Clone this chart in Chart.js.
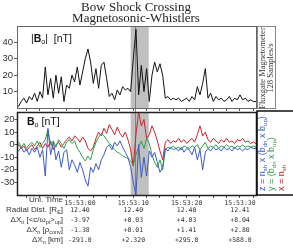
<!DOCTYPE html>
<html>
<head>
<meta charset="utf-8">
<script src="https://cdn.jsdelivr.net/npm/chart.js@4.4.0/dist/chart.umd.min.js"></script>
<style>
html, body { margin: 0; padding: 0; background: #fff; overflow: hidden; }
#wrap { position: relative; width: 293px; height: 249px; }
canvas { position: absolute; left: 0; top: 0; }
</style>
</head>
<body>
<div id="wrap">
  <canvas id="bmag" width="293" height="249"></canvas>
  <canvas id="bvec" width="293" height="249"></canvas>
</div>
<script>
// samples every 0.5 s, seconds relative to 15:53:00
const t0 = -12;
const dt = 0.5;

// |B| [nT]
const bMag = [3, 1, 4, 6, 3, 7, 5, 9, 4, 10,
  6, 25, 8, 18, 6, 20, 9, 19, 4, 14,
  12, 20, 16, 25, 14, 22, 30, 36, 28, 15,
  24, 12, 26, 28, 18, 7, 9, 5, 11, 8,
  13, 11, 12, 10, 30, 48, 8, 26, 10, 24,
  4, 20, 28, 22, 27, 20, 6, 7, 5, 6,
  5, 6, 4, 5, 6, 4, 7, 5, 13, 8,
  15, 24, 6, 9, 4, 7, 5, 6, 4, 5,
  7, 4, 6, 5, 8, 5, 6, 4, 5, 4,
  4];

// B components [nT]
const bX = [-2, 0, -3, -1, -5, -2, 0, -4, -1, 2,
  -3, 1, -2, 3, -4, 0, 2, -2, 1, 4,
  6, 3, 7, 5, 2, 6, 3, -3, -5, -2,
  5, 10, 7, 13, 9, 16, 12, 8, 14, 9,
  6, 10, 4, -4, -17, 8, 26, 15, 20, 5,
  8, 15, 10, 3, -5, -12, 2, 4, 1, 3,
  2, 5, 2, 4, 1, 3, 5, 2, 8, 15,
  7, 10, 4, 2, 5, 3, 1, 4, 2, 5,
  2, 3, 1, 4, 3, 5, 2, 3, 1, 2,
  1];
const bY = [-1, 2, -2, 1, -3, 0, 2, -1, 3, -2,
  1, 4, 12, 0, 3, -2, 4, 1, -3, 2,
  4, 1, 3, -3, -6, -10, -13, -9, -12, -4,
  2, 6, 9, 7, 4, 1, -1, -4, -6, -7,
  -9, -10, -11, -13, -16, -8, -2, 3, -3, 5,
  1, -8, -14, -18, -12, -20, -4, -2, -3, -1,
  -3, -2, -4, -1, -2, -3, -1, -2, 0, -4,
  -1, 2, -3, -1, -2, 0, -3, -1, -2, 0,
  -2, -1, -3, -1, -2, 0, -2, -1, -2, -1,
  -2];
const bZ = [-3, -5, -2, -6, -4, -8, -3, -6, -2, -10,
  -4, -25, 13, -8, 2, -12, -5, -18, -6, -4,
  -20, -12, -16, -22, -14, -20, -28, -33, -18, -22,
  -15, -20, -12, -8, -2, 0, -4, 2, -1, 3,
  -2, -6, -10, -18, -30, -40, 0, -26, -10, -25,
  -5, -10, -6, -14, -22, -18, -3, -5, -2, -4,
  -3, -5, -2, -6, -3, -4, -8, -2, -12, -4,
  -20, -6, -3, -5, -2, -4, -3, -5, -2, -4,
  -3, -5, -2, -4, -3, -5, -3, -4, -2, -3,
  -3];

const labelSecs = [0, 10, 20, 30];
const timeLabels = ['15:53:00', '15:53:10', '15:53:20', '15:53:30'];
const radialDist = ['12.40', '12.40', '12.40', '12.41'];
const dxInertial = ['-3.97', '+0.03', '+4.03', '+8.04'];
const dxRho = ['-1.38', '+0.01', '+1.41', '+2.80'];
const dxKm = ['-291.0', '+2.320', '+295.0', '+588.0'];
const shockBand = [9.5, 12.9];
const rampTime = 10.3;

const RED = '#c8232c', GREEN = '#2e9e48', BLUE = '#3b5bc4';
const SANS = 'Liberation Sans', SERIF = 'Liberation Serif', MONO = 'DejaVu Sans Mono';

const xs = bMag.map((_, i) => t0 + i * dt);
const pts = arr => arr.map((v, i) => ({ x: xs[i], y: v }));

const minorTicks = [];
for (let v = -10; v <= 32.5; v += 2.5) minorTicks.push(v);

// text with subscripts: parts = [[text, sub, bold]]
function richWidth(ctx, parts, size) {
  let w = 0;
  parts.forEach(p => {
    ctx.font = (p[2] ? 'bold ' : '') + (p[1] ? size * 0.68 : size) + 'px ' + SANS;
    w += ctx.measureText(p[0]).width;
  });
  return w;
}
function drawRich(ctx, parts, x, y, size, align) {
  let cx = align === 'right' ? x - richWidth(ctx, parts, size) : x;
  ctx.textAlign = 'left';
  ctx.textBaseline = 'middle';
  parts.forEach(p => {
    ctx.font = (p[2] ? 'bold ' : '') + (p[1] ? size * 0.68 : size) + 'px ' + SANS;
    ctx.fillText(p[0], cx, p[1] ? y + size * 0.3 : y);
    cx += ctx.measureText(p[0]).width;
  });
}

// panel decorations: shaded shock band, ramp line, frame, label
function makePanel(cfg) {
  return {
    id: 'panel',
    beforeDatasetsDraw(chart) {
      const { ctx, chartArea: a, scales: { x } } = chart;
      ctx.save();
      ctx.fillStyle = '#c0c0c0';
      const b0 = x.getPixelForValue(shockBand[0]), b1 = x.getPixelForValue(shockBand[1]);
      ctx.fillRect(b0, a.top, b1 - b0, a.bottom - a.top);
      ctx.strokeStyle = '#3cb34a';
      ctx.lineWidth = 1;
      const g = Math.round(x.getPixelForValue(rampTime)) + 0.5;
      ctx.beginPath();
      ctx.moveTo(g, a.top);
      ctx.lineTo(g, cfg.lineTo || a.bottom);
      ctx.stroke();
      ctx.restore();
    },
    afterDraw(chart) {
      const { ctx, chartArea: a } = chart;
      ctx.save();
      ctx.strokeStyle = cfg.frame;
      ctx.lineWidth = cfg.frameWidth;
      ctx.strokeRect(a.left + 0.5, a.top + 0.5, a.right - a.left, a.bottom - a.top);
      ctx.fillStyle = '#111';
      drawRich(ctx, cfg.label, cfg.labelX, cfg.labelY, 10.5, 'left');
      if (cfg.extra) cfg.extra(chart);
      ctx.restore();
    }
  };
}

const common = {
  responsive: false,
  animation: false,
  devicePixelRatio: 1,
  elements: { point: { radius: 0 }, line: { tension: 0, borderWidth: 1 } },
};

const yTicks = (vals) => s => { s.ticks = vals.map(v => ({ value: v })); };

new Chart(document.getElementById('bmag'), {
  type: 'line',
  data: { datasets: [{ data: pts(bMag), borderColor: '#111', borderWidth: 1 }] },
  plugins: [makePanel({
    frame: '#666', frameWidth: 1, lineTo: 112,
    label: [['|'], ['B', false, true], ['o', true], ['|  [nT]']],
    labelX: 31, labelY: 39,
    extra(chart) {
      const ctx = chart.ctx;
      ctx.strokeStyle = '#888';
      ctx.lineWidth = 1;
      ctx.strokeRect(257.5, 26.5, 18, 82);
      ctx.fillStyle = '#333';
      ctx.font = '8.5px ' + SERIF;
      ctx.textAlign = 'center';
      ctx.textBaseline = 'middle';
      ctx.translate(263, 68);
      ctx.rotate(-Math.PI / 2);
      ctx.fillText('Fluxgate Magnetometer', 0, 0);
      ctx.fillText('128 Samples/s', 0, 8);
    }
  })],
  options: Object.assign({}, common, {
    layout: { padding: { top: 26, right: 37, bottom: 141, left: 0 } },
    plugins: { legend: { display: false }, tooltip: { enabled: false } },
    scales: {
      x: {
        type: 'linear', min: -11.8, max: 33,
        afterBuildTicks: s => { s.ticks = minorTicks.map(v => ({ value: v })); },
        ticks: { display: false },
        grid: { drawOnChartArea: false, tickLength: 3, color: '#555' },
        border: { display: false },
        afterFit: s => { s.height = 0; }
      },
      y: {
        min: 0, max: 50,
        afterBuildTicks: yTicks([10, 20, 30, 40]),
        ticks: { font: { family: SANS, size: 9.5 }, color: '#333', padding: 1 },
        grid: { drawOnChartArea: false, tickLength: 3, color: '#555' },
        border: { display: false },
        afterFit: s => { s.width = 17; }
      }
    }
  })
});

new Chart(document.getElementById('bvec'), {
  type: 'line',
  data: {
    datasets: [
      { data: pts(bZ), borderColor: BLUE },
      { data: pts(bY), borderColor: GREEN },
      { data: pts(bX), borderColor: RED }
    ]
  },
  plugins: [makePanel({
    frame: '#222', frameWidth: 1.5,
    label: [['B', false, true], ['o', true], [' [nT]']],
    labelX: 27, labelY: 122,
    extra(chart) {
      const ctx = chart.ctx;
      const x = chart.scales.x;
      // title
      ctx.fillStyle = '#222';
      ctx.font = '13px ' + SERIF;
      ctx.textAlign = 'center';
      ctx.textBaseline = 'middle';
      ctx.fillText('Bow Shock Crossing', 136, 8);
      ctx.fillText('Magnetosonic-Whistlers', 136, 19);
      // table under the time axis
      ctx.fillStyle = '#333';
      const rows = [
        { y: 210, label: [['Radial Dist. [R'], ['E', true], [']']], vals: radialDist },
        { y: 220, label: [['\u0394X'], ['n', true], [' [<c/\u03c9'], ['pi', true], ['>'], ['up', true], [']']], vals: dxInertial },
        { y: 230, label: [['\u0394X'], ['n', true], [' [\u03c1'], ['conv', true], [']']], vals: dxRho },
        { y: 240, label: [['\u0394X'], ['n', true], [' [km]']], vals: dxKm }
      ];
      drawRich(ctx, [['Uni. Time']], 63, 200, 8, 'right');
      rows.forEach(r => {
        drawRich(ctx, r.label, 63, r.y, 8, 'right');
        ctx.font = '6.5px ' + MONO;
        ctx.textAlign = 'center';
        r.vals.forEach((v, k) => ctx.fillText(v, x.getPixelForValue(labelSecs[k]), r.y));
      });
      // component legend box
      ctx.strokeStyle = '#111';
      ctx.lineWidth = 1.5;
      ctx.strokeRect(257, 111, 40, 84);
      const leg = [
        { x: 263, c: BLUE, p: [['z = n'], ['sh', true], [' x (b'], ['dn', true], [' x b'], ['up', true], [')']] },
        { x: 272, c: GREEN, p: [['y = (b'], ['dn', true], [' x b'], ['up', true], [')']] },
        { x: 282, c: RED, p: [['x = n'], ['sh', true]] }
      ];
      leg.forEach(l => {
        ctx.save();
        ctx.translate(l.x, 191);
        ctx.rotate(-Math.PI / 2);
        ctx.fillStyle = l.c;
        drawRich(ctx, l.p, 0, 0, 9, 'left');
        ctx.restore();
      });
    }
  })],
  options: Object.assign({}, common, {
    layout: { padding: { top: 112, right: 37, bottom: 0, left: 0 } },
    plugins: { legend: { display: false }, tooltip: { enabled: false } },
    scales: {
      x: {
        type: 'linear', min: -11.8, max: 33,
        afterBuildTicks: s => { s.ticks = minorTicks.map(v => ({ value: v })); },
        ticks: {
          autoSkip: false, maxRotation: 0, padding: 1,
          font: { family: MONO, size: 6.5 }, color: '#333',
          callback: v => { const k = labelSecs.indexOf(v); return k >= 0 ? timeLabels[k] : ''; }
        },
        grid: { drawOnChartArea: false, tickLength: 3, color: '#555' },
        border: { display: false },
        afterFit: s => { s.height = 54; }
      },
      y: {
        min: -40, max: 26,
        afterBuildTicks: yTicks([-30, -20, -10, 0, 10, 20]),
        ticks: { font: { family: SANS, size: 9.5 }, color: '#333', padding: 0 },
        grid: { drawOnChartArea: false, tickLength: 2.5, color: '#555' },
        border: { display: false },
        afterFit: s => { s.width = 17; }
      }
    }
  })
});
</script>
</body>
</html>
